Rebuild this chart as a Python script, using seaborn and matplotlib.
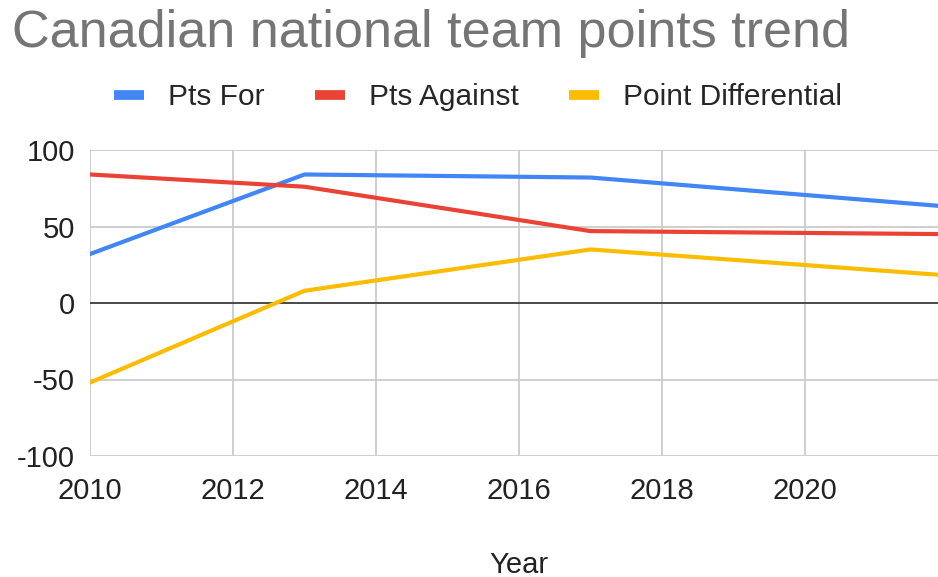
import numpy as np
import pandas as pd
import matplotlib.pyplot as plt
import seaborn as sns
from matplotlib.lines import Line2D

# data
years = [2010, 2013, 2017, 2022]
pts_for = [32, 84, 82, 63]
pts_against = [84, 76, 47, 45]
point_diff = [-52, 8, 35, 18]

series = ['Pts For', 'Pts Against', 'Point Differential']
colors = ['#4285F4', '#EA4335', '#FBBC04']
x_ticks = [2010, 2012, 2014, 2016, 2018, 2020]
y_ticks = [-100, -50, 0, 50, 100]

df = pd.DataFrame({'Year': years, 'Pts For': pts_for,
                   'Pts Against': pts_against, 'Point Differential': point_diff})
long_df = df.melt(id_vars='Year', var_name='Series', value_name='Points')

sns.set_theme(style='whitegrid')
plt.rcParams['font.family'] = ['Liberation Sans', 'DejaVu Sans']
plt.rcParams['axes.unicode_minus'] = False

fig = plt.figure(figsize=(9.38, 5.77), dpi=100)
ax = fig.add_axes([90/938, 1-456/577, (948-90)/938, (456-150)/577])

sns.lineplot(data=long_df, x='Year', y='Points', hue='Series', hue_order=series,
             palette=colors, linewidth=3, ax=ax, legend=False, zorder=3)

ax.set_xlim(2010, 2022)
ax.set_ylim(-100, 100)
ax.set_xticks(x_ticks)
ax.set_yticks(y_ticks)
ax.grid(True, color='#cccccc', linewidth=1.3)
ax.axhline(0, color='#333333', linewidth=1.2, zorder=2)
for s in ax.spines.values():
    s.set_visible(False)

ax.tick_params(axis='both', labelsize=21, colors='#222222', length=0)
ax.tick_params(axis='y', pad=11)
ax.tick_params(axis='x', pad=15)
ax.set_ylabel('')
ax.set_xlabel('Year', fontsize=21, color='#222222', labelpad=33)

fig.text(12/938, 1-9/577, 'Canadian national team points trend', ha='left', va='top',
         fontsize=37.5, color='#757575')

handles = [Line2D([0], [0], color=c, linewidth=7, solid_capstyle='butt') for c in colors]
fig.legend(handles, series, loc='center', bbox_to_anchor=(478/938, 1-97/577), ncol=3,
           frameon=False, fontsize=21.5, handlelength=1.0, handletextpad=0.8,
           columnspacing=1.7)

fig.savefig('out.png', dpi=100)
